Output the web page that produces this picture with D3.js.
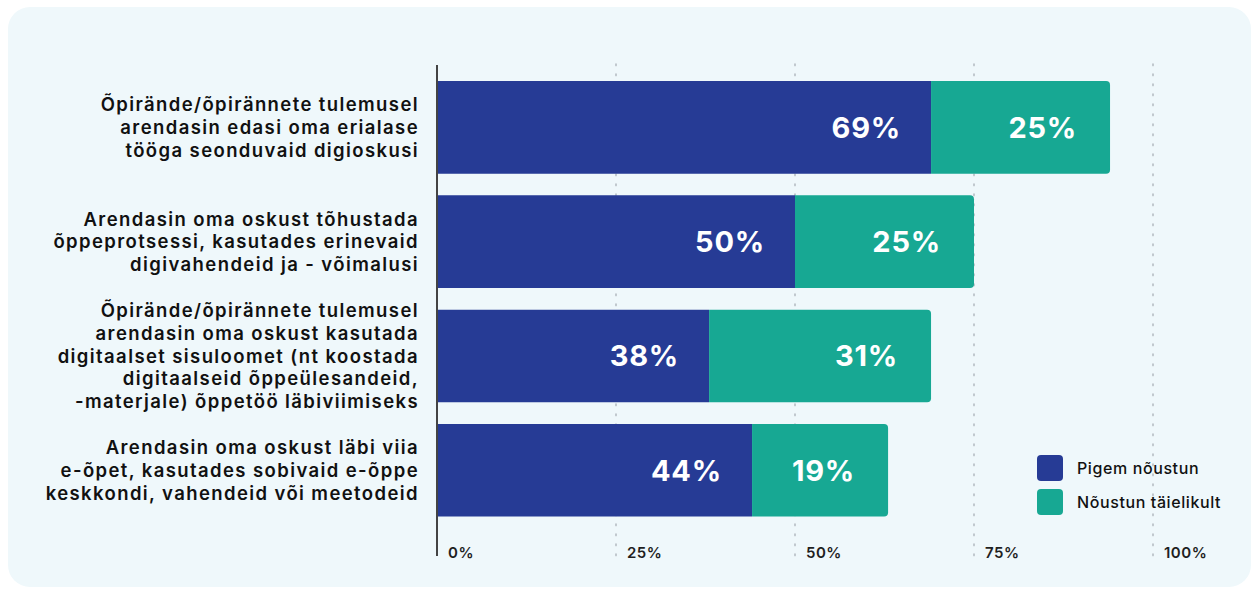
<!DOCTYPE html>
<html>
<head>
<meta charset="utf-8">
<script src="https://cdn.jsdelivr.net/npm/d3@7"></script>
<style>
  html, body { margin: 0; padding: 0; background: #ffffff; }
  svg { display: block; }
  text { font-family: "Inter", "Lato", "Noto Sans", sans-serif; }
</style>
</head>
<body>
<svg id="chart" width="1257" height="590"></svg>
<script>
// Survey statements (each split into display lines)
const categories = [
  ["Õpirände/õpirännete tulemusel", "arendasin edasi oma erialase", "tööga seonduvaid digioskusi"],
  ["Arendasin oma oskust tõhustada", "õppeprotsessi, kasutades erinevaid", "digivahendeid ja - võimalusi"],
  ["Õpirände/õpirännete tulemusel", "arendasin oma oskust kasutada", "digitaalset sisuloomet (nt koostada", "digitaalseid õppeülesandeid,", "-materjale) õppetöö läbiviimiseks"],
  ["Arendasin oma oskust läbi viia", "e-õpet, kasutades sobivaid e-õppe", "keskkondi, vahendeid või meetodeid"]
];
const seriesNames = ["Pigem nõustun", "Nõustun täielikult"];
const pigemNoustun = [69, 50, 38, 44];
const noustunTaielikult = [25, 25, 31, 19];
const tickValues = [0, 25, 50, 75, 100];
const colors = ["#263b95", "#17a893"];

const svg = d3.select("#chart");

// panel background
svg.append("rect")
  .attr("x", 8).attr("y", 7).attr("width", 1243).attr("height", 580)
  .attr("rx", 22).attr("fill", "#eff8fb");

const x = d3.scaleLinear().domain([0, 100]).range([437, 1153]);
const y = d3.scaleBand().domain(d3.range(categories.length))
  .range([69.6, 528]).paddingInner(0.19).paddingOuter(0.1);

// dotted vertical gridlines
svg.append("g").selectAll("line")
  .data(tickValues.slice(1))
  .join("line")
  .attr("x1", d => x(d)).attr("x2", d => x(d))
  .attr("y1", 64).attr("y2", 557)
  .attr("stroke", "#b5bcc2").attr("stroke-width", 1.6)
  .attr("stroke-dasharray", "1.6 8.4")
  .attr("stroke-linecap", "round");

// tick labels (left-aligned next to each gridline)
svg.append("g").selectAll("text")
  .data(tickValues)
  .join("text")
  .attr("x", d => x(d) + 11)
  .attr("y", 558)
  .attr("font-size", 15).attr("font-weight", 600)
  .attr("letter-spacing", 0.5)
  .attr("fill", "#1f1f1f")
  .text(d => d + "%");

// stacked data
const rows = categories.map((c, i) => ({ i, vals: [pigemNoustun[i], noustunTaielikult[i]] }));
const segs = [];
rows.forEach(r => {
  let acc = 0;
  r.vals.forEach((v, k) => {
    segs.push({ i: r.i, k, v, x0: acc, x1: acc + v });
    acc += v;
  });
});

// bar path: square on the left, rounded right corners on the last segment
function segPath(d) {
  const x0 = x(d.x0), x1 = x(d.x1), y0 = y(d.i), h = y.bandwidth();
  const r = d.k === 1 ? 4 : 0;
  return `M${x0},${y0}H${x1 - r}Q${x1},${y0} ${x1},${y0 + r}V${y0 + h - r}Q${x1},${y0 + h} ${x1 - r},${y0 + h}H${x0}Z`;
}

svg.append("g").selectAll("path")
  .data(segs)
  .join("path")
  .attr("d", segPath)
  .attr("fill", d => colors[d.k]);

// value labels
svg.append("g").selectAll("text")
  .data(segs)
  .join("text")
  .attr("x", d => x(d.x1) - (d.k === 1 ? 33 : 30))
  .attr("y", d => y(d.i) + y.bandwidth() / 2)
  .attr("dy", "0.36em")
  .attr("text-anchor", "end")
  .attr("font-size", 29).attr("font-weight", 700)
  .attr("letter-spacing", 0.8)
  .attr("fill", "#ffffff")
  .text(d => d.v + "%");

// axis line
svg.append("line")
  .attr("x1", 437).attr("x2", 437).attr("y1", 65).attr("y2", 556)
  .attr("stroke", "#444").attr("stroke-width", 2);

// category labels
const lineH = 22.6;
const labelG = svg.append("g");
categories.forEach((lines, i) => {
  const cy = y(i) + y.bandwidth() / 2;
  const t = labelG.append("text")
    .attr("text-anchor", "end")
    .attr("font-size", 18.5).attr("font-weight", 600)
    .attr("letter-spacing", 1.4)
    .attr("fill", "#111");
  lines.forEach((ln, j) => {
    t.append("tspan")
      .attr("x", 419)
      .attr("y", cy + (j - (lines.length - 1) / 2) * lineH)
      .attr("dy", "0.36em")
      .text(ln);
  });
});

// legend
const legend = svg.append("g");
seriesNames.forEach((name, k) => {
  const ly = 455 + k * 34;
  legend.append("rect")
    .attr("x", 1037).attr("y", ly).attr("width", 26).attr("height", 26)
    .attr("rx", 4).attr("fill", colors[k]);
  legend.append("text")
    .attr("x", 1077).attr("y", ly + 13).attr("dy", "0.36em")
    .attr("font-size", 16).attr("font-weight", 500)
    .attr("letter-spacing", 0.6)
    .attr("fill", "#111")
    .text(name);
});
</script>
</body>
</html>
